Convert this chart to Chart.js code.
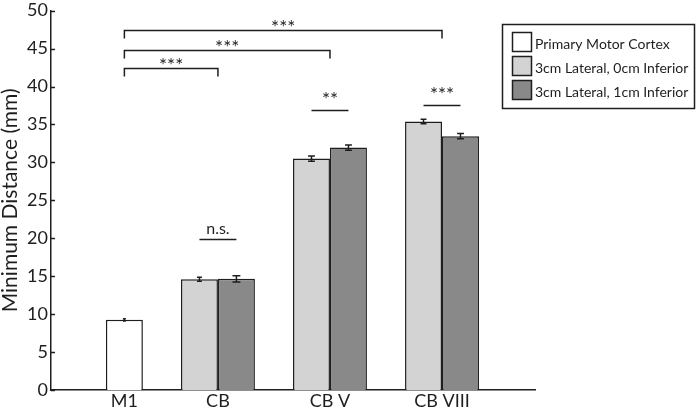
<!DOCTYPE html>
<html>
<head>
<meta charset="utf-8">
<script src="https://cdn.jsdelivr.net/npm/chart.js@4.4.1/dist/chart.umd.min.js"></script>
<style>
  html, body { margin: 0; padding: 0; background: #fff; }
  #wrap { position: relative; width: 696px; height: 409px; }
</style>
</head>
<body>
<div id="wrap"><canvas id="chart"></canvas></div>
<script>
// ── Data ──
const categories = ['M1', 'CB', 'CB V', 'CB VIII'];
const seriesLabels = ['Primary Motor Cortex', '3cm Lateral, 0cm Inferior', '3cm Lateral, 1cm Inferior'];
const motorCortex = [9.25, null, null, null];
const motorCortexErr = [0.15, null, null, null];
const lateral0 = [null, 14.6, 30.5, 35.4];
const lateral0Err = [null, 0.25, 0.35, 0.3];
const lateral1 = [null, 14.65, 31.95, 33.45];
const lateral1Err = [null, 0.4, 0.35, 0.35];
const yTicks = [0, 5, 10, 15, 20, 25, 30, 35, 40, 45, 50];

// significance: M1 against each other site (bracket), and the two lateral sites within a site (bar)
const bracketTargets = [1, 2, 3];
const bracketLevels = [42.4, 44.8, 47.4];
const bracketTexts = ['***', '***', '***'];
const pairCategories = [1, 2, 3];
const pairLevels = [19.9, 36.9, 37.5];
const pairTexts = ['n.s.', '**', '***'];

// ── Style ──
const INK = '#1e1e1e';
const FILLS = ['#ffffff', '#d3d3d3', '#898989'];
const FONT = 'Lato';

const toPoints = arr => arr.map((v, i) => ({ x: i + 1, y: v }));

// ── Overlay: inward ticks, error bars, significance marks, category labels, legend ──
const overlay = {
    id: 'overlay',
    afterDatasetsDraw(chart) {
        const ctx = chart.ctx;
        const y = chart.scales.y;
        ctx.save();
        ctx.strokeStyle = INK;
        ctx.lineWidth = 1.5;
        chart.data.datasets.forEach((ds, di) => {
            const meta = chart.getDatasetMeta(di);
            ds.errors.forEach((e, i) => {
                const v = ds.data[i].y;
                if (v == null || e == null) return;
                const bar = meta.data[i];
                const top = y.getPixelForValue(v + e);
                const bot = y.getPixelForValue(v - e);
                const cap = Math.max(2, Math.min(8, (bot - top) * 1.3));
                ctx.beginPath();
                ctx.moveTo(bar.x, top); ctx.lineTo(bar.x, bot);
                ctx.moveTo(bar.x - cap / 2, top); ctx.lineTo(bar.x + cap / 2, top);
                ctx.moveTo(bar.x - cap / 2, bot); ctx.lineTo(bar.x + cap / 2, bot);
                ctx.stroke();
            });
        });
        ctx.restore();
    },
    afterDraw(chart) {
        const ctx = chart.ctx;
        const { x, y } = chart.scales;
        const area = chart.chartArea;
        const metas = [0, 1, 2].map(i => chart.getDatasetMeta(i));
        ctx.save();
        ctx.strokeStyle = INK;
        ctx.fillStyle = INK;
        ctx.lineWidth = 1.5;

        // y ticks pointing into the plot
        yTicks.forEach(v => {
            const py = Math.round(y.getPixelForValue(v)) + 0.5;
            ctx.beginPath();
            ctx.moveTo(area.left, py); ctx.lineTo(area.left + 4, py);
            ctx.stroke();
        });

        // category labels, centred under the bars that exist
        ctx.font = `18px ${FONT}`;
        ctx.textAlign = 'center';
        ctx.textBaseline = 'alphabetic';
        categories.forEach((c, i) => {
            const xs = metas.filter(m => chart.data.datasets[m.index].data[i].y != null)
                .map(m => m.data[i].x);
            const cx = xs.reduce((a, b) => a + b, 0) / xs.length;
            ctx.fillText(c, cx, area.bottom + 17);
        });

        // brackets from M1 to each site
        const m1x = metas[0].data[0].x;
        const drop = 8;
        const starFont = `19px ${FONT}`;
        ctx.font = starFont;
        bracketTargets.forEach((t, i) => {
            const x2 = x.getPixelForValue(t + 1);
            const py = Math.round(y.getPixelForValue(bracketLevels[i])) + 0.5;
            ctx.beginPath();
            ctx.moveTo(m1x, py + drop); ctx.lineTo(m1x, py);
            ctx.lineTo(x2, py); ctx.lineTo(x2, py + drop);
            ctx.stroke();
            ctx.fillText(bracketTexts[i], (m1x + x2) / 2, py + 3);
        });

        // within-site comparisons
        pairCategories.forEach((c, i) => {
            const xa = metas[1].data[c].x;
            const xb = metas[2].data[c].x;
            const py = Math.round(y.getPixelForValue(pairLevels[i])) + 0.5;
            ctx.beginPath();
            ctx.moveTo(xa, py); ctx.lineTo(xb, py);
            ctx.stroke();
            const isStars = pairTexts[i].startsWith('*');
            ctx.font = isStars ? starFont : `16px ${FONT}`;
            ctx.fillText(pairTexts[i], (xa + xb) / 2, py - (isStars ? 5 : 6));
        });

        // legend box
        const lx = 502, ly = 24, lw = 192, lh = 84;
        ctx.lineWidth = 1.5;
        ctx.strokeRect(lx + 0.5, ly + 0.5, lw, lh);
        ctx.font = `14px ${FONT}`;
        ctx.textAlign = 'left';
        chart.data.datasets.forEach((ds, i) => {
            const sy = ly + 8 + i * 24;
            ctx.fillStyle = ds.backgroundColor;
            ctx.fillRect(lx + 10.5, sy + 0.5, 19, 19);
            ctx.strokeRect(lx + 10.5, sy + 0.5, 19, 19);
            ctx.fillStyle = INK;
            ctx.fillText(ds.label, lx + 33, sy + 16.5);
        });
        ctx.restore();
    }
};

const datasets = [
    { label: seriesLabels[0], data: toPoints(motorCortex), errors: motorCortexErr, backgroundColor: FILLS[0], stack: 'right', order: 1 },
    { label: seriesLabels[1], data: toPoints(lateral0), errors: lateral0Err, backgroundColor: FILLS[1], stack: 'left', order: 0 },
    { label: seriesLabels[2], data: toPoints(lateral1), errors: lateral1Err, backgroundColor: FILLS[2], stack: 'right', order: 2 }
].map(ds => Object.assign(ds, {
    borderColor: INK,
    borderWidth: 1.5,
    categoryPercentage: 0.66,
    barPercentage: 1.0
}));

new Chart(document.getElementById('chart'), {
    type: 'bar',
    data: { datasets },
    options: {
        responsive: true,
        maintainAspectRatio: false,
        animation: false,
        layout: { padding: { left: 0, top: 0, right: 161, bottom: 0 } },
        plugins: { legend: { display: false }, tooltip: { enabled: false } },
        scales: {
            x: {
                type: 'linear',
                offset: false,
                min: 0.51,
                max: 4.83,
                afterBuildTicks: s => { s.ticks = categories.map((_, i) => ({ value: i + 1 })); },
                ticks: { display: false },
                grid: { display: false, drawTicks: false, offset: false },
                border: { display: true, color: INK, width: 1.5 },
                afterFit: s => { s.height = 19; }
            },
            y: {
                min: 0,
                max: 50,
                stacked: false,
                afterBuildTicks: s => { s.ticks = yTicks.map(v => ({ value: v })); },
                ticks: { color: INK, padding: 3, font: { family: FONT, size: 18, lineHeight: 0.85 } },
                grid: { display: false, drawTicks: false },
                border: { display: true, color: INK, width: 1.5 },
                title: {
                    display: true,
                    text: 'Minimum Distance (mm)',
                    color: INK,
                    padding: 0,
                    font: { family: FONT, size: 21, lineHeight: 1 }
                },
                afterFit: s => { s.width = 51; }
            }
        }
    },
    plugins: [overlay]
});
</script>
</body>
</html>
